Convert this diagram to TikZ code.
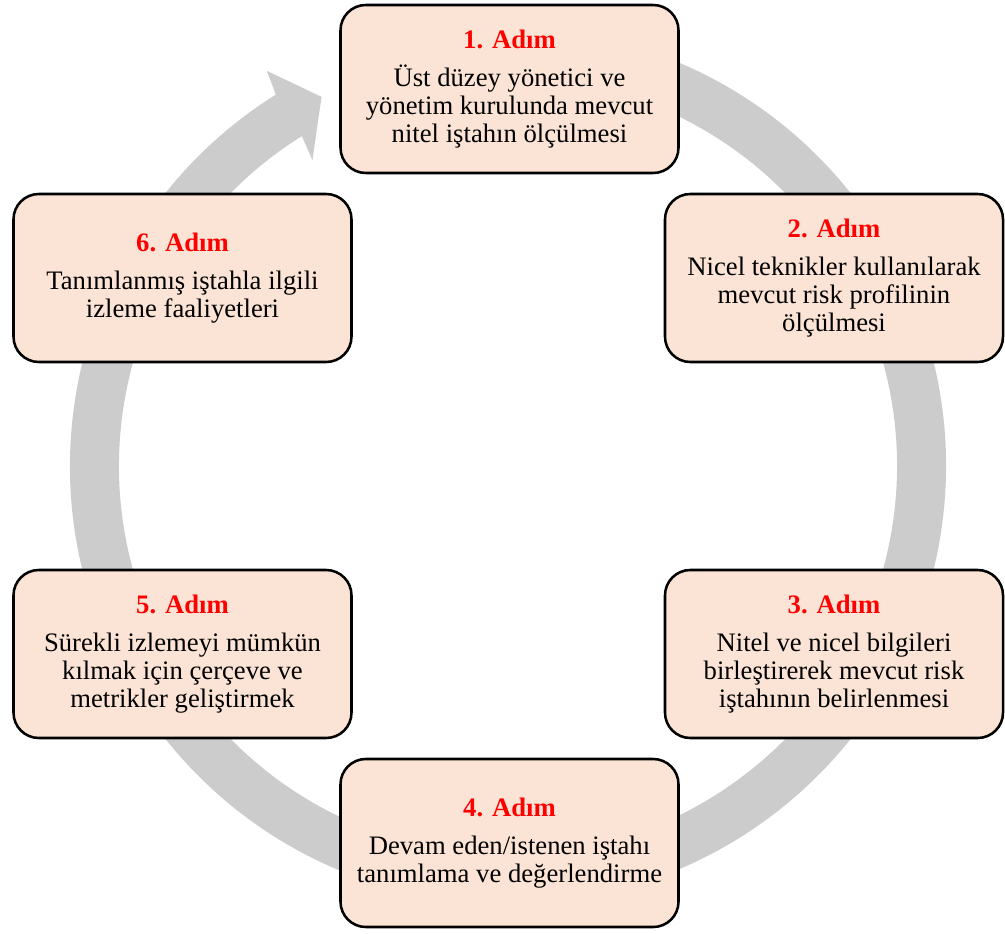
\documentclass[tikz,border=0pt]{standalone}
\usepackage{fontspec}
\setmainfont{Liberation Serif}
\definecolor{boxfill}{HTML}{FBE4D5}
\definecolor{ringgray}{HTML}{CCCCCC}
\definecolor{steptitle}{HTML}{FF0000}
\tikzset{
  stepbox/.style={draw=black, line width=1.9pt, fill=boxfill, rounded corners=19pt,
    minimum width=253.5pt, minimum height=126pt, align=center, inner sep=0pt,
    font=\fontsize{20}{21}\selectfont},
}
\newcommand{\steplabel}[1]{\textcolor{steptitle}{\bfseries #1}\\[7.5pt]}
\begin{document}
\begin{tikzpicture}[x=0.75pt,y=0.75pt]
\useasboundingbox (0,0) rectangle (1005,933);

% circular arrow running clockwise behind the boxes
\begin{scope}[shift={(508,467)}]
  \fill[ringgray]
    (80:438) arc[start angle=80, end angle=-238, radius=438]
    -- (121.4:463) -- (116.8:413.6) -- (122.6:363)
    -- (-238:389) arc[start angle=-238, end angle=80, radius=389] -- cycle;
\end{scope}

\node[stepbox] (s1) at (509.5,844) {\steplabel{1. Adım}Üst düzey yönetici ve\\yönetim kurulunda mevcut\\nitel iştahın ölçülmesi};
\node[stepbox] (s2) at (834,655) {\steplabel{2. Adım}Nicel teknikler kullanılarak\\mevcut risk profilinin\\ölçülmesi};
\node[stepbox] (s3) at (834,279) {\steplabel{3. Adım}Nitel ve nicel bilgileri\\birleştirerek mevcut risk\\iştahının belirlenmesi};
\node[stepbox] (s4) at (509.5,90) {\steplabel{4. Adım}Devam eden/istenen iştahı\\tanımlama ve değerlendirme};
\node[stepbox] (s5) at (182.5,279) {\steplabel{5. Adım}Sürekli izlemeyi mümkün\\kılmak için çerçeve ve\\metrikler geliştirmek};
\node[stepbox] (s6) at (182.5,655) {\steplabel{6. Adım}Tanımlanmış iştahla ilgili\\izleme faaliyetleri};
\end{tikzpicture}
\end{document}
